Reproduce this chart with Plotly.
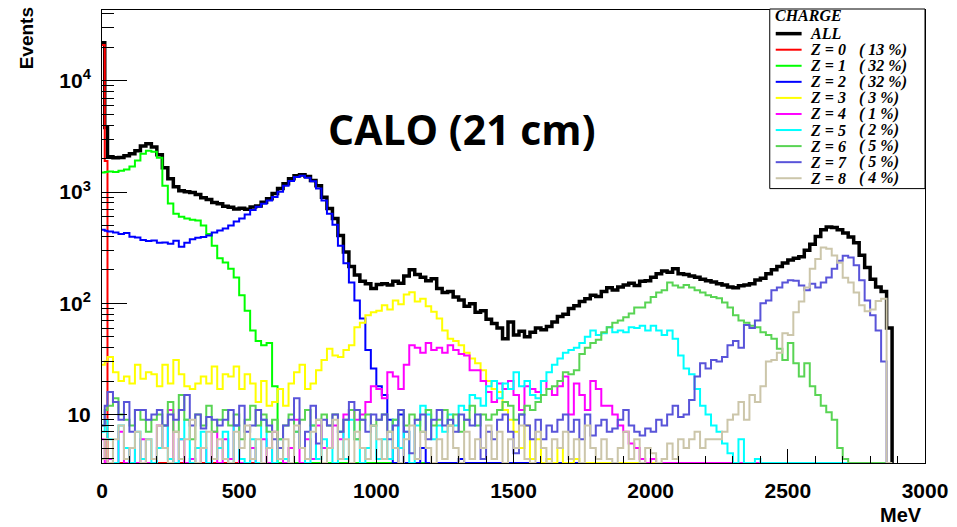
import plotly.graph_objects as go

# ---------------- data (counts per bin) ----------------
# bins: 0-10, 10-20, then 20 MeV wide up to 2880 MeV
bin_edges = [0, 10] + list(range(20, 2881, 20))

charge_names = ["ALL", "Z = 0", "Z = 1", "Z = 2", "Z = 3", "Z = 4", "Z = 5", "Z = 6", "Z = 7", "Z = 8"]
charge_pct = [None, 13, 32, 32, 3, 1, 2, 5, 5, 4]

all_counts = [22000, 3800,
    2080, 2040, 2050, 2120, 2210, 2360, 2600, 2720, 2550, 2170,
    1660, 1320, 1120, 1030, 1010, 990, 950, 890, 860, 805,
    787, 745, 730, 705, 715, 700, 735, 750, 810, 870,
    970, 1075, 1190, 1320, 1405, 1435, 1380, 1270, 1140, 900,
    711, 578, 407, 290, 215, 180, 158, 150, 136, 148,
    150, 146, 158, 152, 176, 200, 182, 172, 160, 166,
    136, 125, 128, 114, 107, 94, 99, 83, 86, 72,
    66, 60, 48, 68, 52, 56, 50, 55, 60, 58,
    62, 68, 76, 80, 90, 95, 104, 110, 118, 115,
    128, 138, 132, 140, 146, 152, 145, 158, 160, 172,
    185, 195, 190, 205, 185, 182, 176, 172, 165, 160,
    156, 150, 146, 140, 138, 144, 146, 150, 162, 168,
    185, 200, 215, 230, 245, 255, 262, 300, 340, 400,
    460, 485, 480, 460, 430, 395, 350, 270, 210, 165,
    140, 128, 60]

z0_counts = [21000, 1900,
    0, 0, 0, 0, 0, 0, 0, 0, 0, 0,
    0, 0, 0, 0, 0, 0, 0, 0, 0, 0,
    0, 0, 0, 0, 0, 0, 0, 0, 0, 0,
    0, 0, 0, 0, 0, 0, 0, 0, 0, 0,
    0, 0, 0, 0, 0, 0, 0, 0, 0, 0,
    0, 0, 0, 0, 0, 0, 0, 0, 0, 0,
    0, 0, 0, 0, 0, 0, 0, 0, 0, 0,
    0, 0, 0, 0, 0, 0, 0, 0, 0, 0,
    0, 0, 0, 0, 0, 0, 0, 0, 0, 0,
    0, 0, 0, 0, 0, 0, 0, 0, 0, 0,
    0, 0, 0, 0, 0, 0, 0, 0, 0, 0,
    0, 0, 0, 0, 0, 0, 0, 0, 0, 0,
    0, 0, 0, 0, 0, 0, 0, 0, 0, 0,
    0, 0, 0, 0, 0, 0, 0, 0, 0, 0,
    0, 0, 0]

z1_counts = [1500, 1520,
    1530, 1520, 1560, 1600, 1700, 1920, 2210, 2350, 2300, 2040,
    1140, 790, 640, 600, 578, 565, 555, 500, 420, 330,
    255, 233, 205, 171, 118, 86, 57, 46, 42, 44,
    18, 0, 2, 0, 0, 3, 0, 0, 0, 2,
    0, 0, 3, 0, 0, 0, 2, 0, 3, 0,
    0, 2, 0, 0, 3, 0, 0, 2, 0, 0,
    0, 0, 0, 0, 0, 0, 0, 0, 0, 0,
    0, 0, 0, 0, 0, 0, 0, 0, 0, 0,
    0, 0, 0, 0, 0, 0, 0, 0, 0, 0,
    0, 0, 0, 0, 0, 0, 0, 0, 0, 0,
    0, 0, 0, 0, 0, 0, 0, 0, 0, 0,
    0, 0, 0, 0, 0, 0, 0, 0, 0, 0,
    0, 0, 0, 0, 0, 0, 0, 0, 0, 0,
    0, 0, 0, 0, 0, 0, 0, 0, 0, 0,
    0, 0, 0]

z2_counts = [460, 450,
    442, 433, 420, 428, 397, 390, 372, 364, 368, 350,
    352, 344, 366, 322, 350, 376, 388, 395, 408, 433,
    452, 470, 500, 545, 578, 630, 690, 740, 787, 840,
    905, 1010, 1140, 1260, 1370, 1400, 1345, 1250, 1075, 840,
    640, 510, 330, 229, 154, 106, 73, 38, 26, 18,
    15, 9, 2, 10, 0, 3, 0, 5, 0, 2,
    0, 3, 0, 0, 4, 0, 2, 0, 0, 3,
    0, 0, 2, 0, 0, 0, 3, 0, 0, 0,
    0, 0, 0, 0, 0, 0, 0, 0, 0, 0,
    0, 0, 0, 0, 0, 0, 0, 0, 0, 0,
    0, 0, 0, 0, 0, 0, 0, 0, 0, 0,
    0, 0, 0, 0, 0, 0, 0, 0, 0, 0,
    0, 0, 0, 0, 0, 0, 0, 0, 0, 0,
    0, 0, 0, 0, 0, 0, 0, 0, 0, 0,
    0, 0, 0]

z3_counts = [28, 30,
    33, 24, 20, 22, 19, 28, 21, 24, 23, 18,
    28, 19, 31, 23, 18, 17, 19, 22, 19, 27,
    17, 23, 22, 27, 17, 23, 19, 13, 20, 12,
    13, 17, 12, 19, 24, 28, 17, 19, 25, 31,
    39, 34, 33, 38, 42, 61, 67, 78, 83, 86,
    96, 88, 106, 98, 120, 126, 104, 110, 94, 84,
    73, 57, 48, 46, 42, 36, 32, 29, 25, 20,
    17, 16, 11, 9, 7, 5, 8, 4, 6, 3,
    4, 2, 5, 3, 0, 4, 2, 3, 0, 2,
    2, 0, 3, 0, 0, 2, 0, 0, 0, 0,
    0, 0, 0, 0, 0, 0, 0, 0, 0, 0,
    0, 0, 0, 0, 0, 0, 0, 0, 0, 0,
    0, 0, 0, 0, 0, 0, 0, 0, 0, 0,
    0, 0, 0, 0, 0, 0, 0, 0, 0, 0,
    0, 0, 0]

z4_counts = [6, 0,
    4, 3, 7, 2, 5, 0, 6, 3, 2, 8,
    5, 11, 3, 6, 2, 4, 0, 5, 3, 7,
    2, 6, 4, 8, 3, 0, 5, 2, 6, 3,
    7, 4, 2, 5, 9, 3, 6, 4, 8, 5,
    5, 8, 6, 10, 11, 9, 10, 13, 18, 17,
    14, 24, 22, 17, 28, 42, 40, 36, 44, 38,
    40, 36, 42, 38, 35, 34, 25, 25, 20, 16,
    13, 19, 17, 20, 15, 11, 18, 17, 16, 20,
    17, 15, 18, 22, 10, 19, 15, 11, 20, 17,
    12, 12, 10, 8, 7, 5.5, 5, 4, 3, 4,
    2, 3, 0, 2, 3, 0, 2, 0, 0, 0,
    0, 0, 0, 0, 0, 0, 0, 0, 0, 0,
    0, 0, 0, 0, 0, 0, 0, 0, 0, 0,
    0, 0, 0, 0, 0, 0, 0, 0, 0, 0,
    0, 0, 0]

z5_counts = [7, 9,
    6, 3, 8, 5, 2, 7, 4, 6, 3, 5,
    8, 4, 2, 6, 9, 3, 5, 7, 2, 4,
    5, 7, 3, 8, 4, 2, 6, 3, 9, 5,
    3, 6, 4, 2, 7, 5, 3, 8, 4, 6,
    5, 3, 7, 4, 9, 6, 3, 5, 8, 4,
    6, 4, 9, 5, 7, 3, 8, 12, 10, 6,
    8, 7, 10, 8, 12, 11, 15, 14, 12, 18,
    20, 14, 19, 17, 24, 18, 20, 15, 14, 20,
    24, 28, 32, 36, 38, 40, 44, 50, 57, 52,
    54, 61, 55, 57, 55, 61, 60, 63, 57, 63,
    57, 52, 57, 48, 34, 26, 23, 17, 12, 10,
    8, 7, 5.5, 4.5, 2, 6, 2, 0, 4, 0,
    0, 0, 0, 0, 0, 0, 0, 0, 0, 0,
    0, 0, 0, 0, 0, 0, 0, 0, 0, 0,
    0, 0, 0]

z6_counts = [8, 11,
    12, 14, 10, 9, 8, 11, 9, 7, 9, 10,
    8, 13, 7, 15, 9, 6, 10, 8, 12, 7,
    9, 11, 8, 10, 6, 9, 12, 8, 10, 7,
    9, 6, 8, 10, 7, 9, 11, 8, 9, 10,
    8, 10, 7, 9, 11, 6, 9, 10, 8, 9,
    10, 7, 9, 11, 8, 10, 9, 7, 11, 8,
    9, 11, 8, 10, 7, 9, 12, 8, 10, 9,
    10, 11, 13, 12, 9, 10, 12, 11, 13, 15,
    17, 18, 20, 24, 23, 25, 35, 40, 44, 47,
    55, 61, 67, 70, 75, 81, 92, 92, 102, 114,
    125, 131, 154, 145, 139, 146, 139, 131, 125, 118,
    114, 111, 102, 92, 78, 70, 67, 63, 61, 55,
    52, 48, 39, 31, 44, 29, 22, 29, 18, 15,
    12, 10.5, 9, 5, 4, 0, 0, 0, 0, 0,
    0, 0, 0]

z7_counts = [8, 12,
    16, 13, 9, 13, 7, 11, 11, 9, 10, 11,
    8, 10, 9, 11, 15, 8, 10, 7.5, 9.5, 9,
    8, 9, 11, 8, 12, 7, 8, 11, 9, 8,
    6, 5, 8, 9, 14, 5, 7, 12, 5.5, 9,
    8, 10, 7, 9, 13, 11, 9, 7, 10, 9,
    10, 6, 8, 11, 7, 4.5, 9, 10, 6, 9,
    11, 8, 9, 7, 10, 9, 8, 10, 4, 7,
    6, 9, 10, 7, 4.5, 10, 8, 6, 9, 6,
    8, 7, 9, 10, 7, 9, 6, 10, 6.5, 8,
    9, 7, 7.5, 9, 11, 8, 7, 6.5, 7.5, 7,
    9, 8, 10, 12, 9.5, 10, 13.5, 22, 29, 26,
    31, 30, 33, 42, 46, 40, 64, 60, 70, 100,
    106, 131, 139, 154, 161, 160, 145, 131, 150, 139,
    154, 171, 205, 242, 268, 258, 220, 161, 106, 78,
    57, 30, 0]

z8_counts = [4, 6,
    3, 6, 8, 4, 5, 7, 3, 6, 4, 8,
    5, 3, 7, 4, 6, 9, 3, 5, 7, 4,
    6, 4, 3, 7, 5, 8, 4, 6, 3, 5,
    7, 4, 6, 3, 8, 5, 4, 7, 9, 3,
    5, 9, 4, 6, 3, 7, 5, 4, 8, 6,
    4, 7, 5, 3, 6, 8, 4, 7, 5, 3,
    6, 4, 8, 5, 3, 7, 4, 6, 5, 8,
    4, 7, 3, 6, 5, 8, 4, 3, 7, 5,
    3, 6, 5, 7, 4, 6, 3, 8, 5, 4,
    6, 4, 3, 5, 7, 4, 6, 3, 5, 4.5,
    3, 4, 5.5, 4, 6, 5, 6, 7, 5, 6,
    6, 6, 7, 9, 10, 13, 9, 15, 13, 18,
    30, 31, 36, 54, 52, 83, 104, 139, 205, 250,
    317, 310, 269, 232, 170, 154, 125, 96, 85, 88,
    105, 110, 0]

y_tick_vals = [10, 100, 1000, 10000]
y_tick_text = ["10", "10<sup>2</sup>", "10<sup>3</sup>", "10<sup>4</sup>"]
x_tick_vals = [0, 500, 1000, 1500, 2000, 2500, 3000]

# ---------------- styling ----------------
series = [all_counts, z0_counts, z1_counts, z2_counts, z3_counts,
          z4_counts, z5_counts, z6_counts, z7_counts, z8_counts]
colors = ["#000000", "#ff0000", "#00ff00", "#0000ff", "#ffff00",
          "#ff00ff", "#00ffff", "#59d454", "#5954d9", "#ccc6aa"]
widths = [3.5, 2, 2, 2, 2, 2, 2, 2, 2, 2]

LOG_MIN, LOG_MAX = 0.565, 4.637
floor_val = 10 ** LOG_MIN

W, H = 957, 527
ML, MR, MT, MB = 102, 28, 9, 64
PW, PH = W - ML - MR, H - MT - MB


def fx(px):
    return (px - ML) / PW


def fy(py):
    return (H - MB - py) / PH


fig = go.Figure()
for vals, col, wd, nm in zip(series, colors, widths, charge_names):
    yy = [max(v, floor_val) for v in vals] + [floor_val]
    fig.add_trace(go.Scatter(x=bin_edges, y=yy, mode="lines", name=nm,
                             line=dict(shape="hv", color=col, width=wd),
                             hoverinfo="skip"))

minor_y = [m * 10 ** k for k in range(0, 5) for m in range(2, 10)]
minor_y = [v for v in minor_y if floor_val < v < 10 ** LOG_MAX]

tickfont = dict(family="Liberation Sans", size=21, color="black", weight="bold")

fig.update_layout(
    width=W, height=H, margin=dict(l=ML, r=MR, t=MT, b=MB),
    paper_bgcolor="white", plot_bgcolor="white", showlegend=False,
    xaxis=dict(range=[0, 3000], tickvals=x_tick_vals, ticks="inside", ticklen=14,
               tickcolor="black", tickwidth=1, showline=True, linecolor="black",
               linewidth=1, mirror=True, showgrid=False, zeroline=False,
               tickfont=tickfont, ticklabelstandoff=9,
               minor=dict(ticks="inside", ticklen=7, dtick=100, tickcolor="black", showgrid=False)),
    yaxis=dict(type="log", range=[LOG_MIN, LOG_MAX], tickvals=y_tick_vals, ticktext=y_tick_text,
               ticks="inside", ticklen=25, tickcolor="black", tickwidth=1,
               showline=True, linecolor="black", linewidth=1, mirror=True,
               showgrid=False, zeroline=False, tickfont=tickfont, ticklabelstandoff=6,
               minor=dict(ticks="inside", ticklen=12, tickvals=minor_y, tickcolor="black", showgrid=False)),
)

annotations = []
shapes = []

# title
annotations.append(dict(text="CALO (21 cm)", x=fx(464), y=fy(128), xref="paper", yref="paper",
                        showarrow=False, xanchor="center", yanchor="middle",
                        font=dict(family="Open Sans", size=41, color="black", weight="bold")))
# axis titles
annotations.append(dict(text="Events", x=fx(27), y=fy(37), xref="paper", yref="paper",
                        showarrow=False, textangle=-90, xanchor="center", yanchor="middle",
                        font=dict(family="Liberation Sans", size=19, color="black", weight="bold")))
annotations.append(dict(text="MeV", x=fx(928), y=fy(515), xref="paper", yref="paper",
                        showarrow=False, xanchor="right", yanchor="middle",
                        font=dict(family="Liberation Sans", size=20, color="black", weight="bold")))

# legend box
shapes.append(dict(type="rect", xref="paper", yref="paper", x0=fx(773), x1=fx(929),
                   y0=fy(188), y1=fy(8), line=dict(color="black", width=1),
                   fillcolor="white", layer="above"))
legfont = dict(family="Liberation Serif", size=16, color="black", weight="bold", style="italic")
annotations.append(dict(text="CHARGE", x=fx(776), y=fy(15), xref="paper", yref="paper",
                        showarrow=False, xanchor="left", yanchor="middle",
                        font=dict(family="Liberation Serif", size=16, color="black",
                                  weight="bold", style="italic")))
for i, (nm, col, wd, pct) in enumerate(zip(charge_names, colors, widths, charge_pct)):
    yc = 32.7 + 16.1 * i
    shapes.append(dict(type="line", xref="paper", yref="paper", x0=fx(779), x1=fx(805),
                       y0=fy(yc), y1=fy(yc), line=dict(color=col, width=wd), layer="above"))
    annotations.append(dict(text=nm, x=fx(811), y=fy(yc), xref="paper", yref="paper",
                            showarrow=False, xanchor="left", yanchor="middle", font=legfont))
    if pct is not None:
        annotations.append(dict(text=f"( {pct} %)", x=fx(861), y=fy(yc), xref="paper", yref="paper",
                                showarrow=False, xanchor="left", yanchor="middle", font=legfont))

fig.update_layout(annotations=annotations, shapes=shapes)
fig.write_html("out.html")
